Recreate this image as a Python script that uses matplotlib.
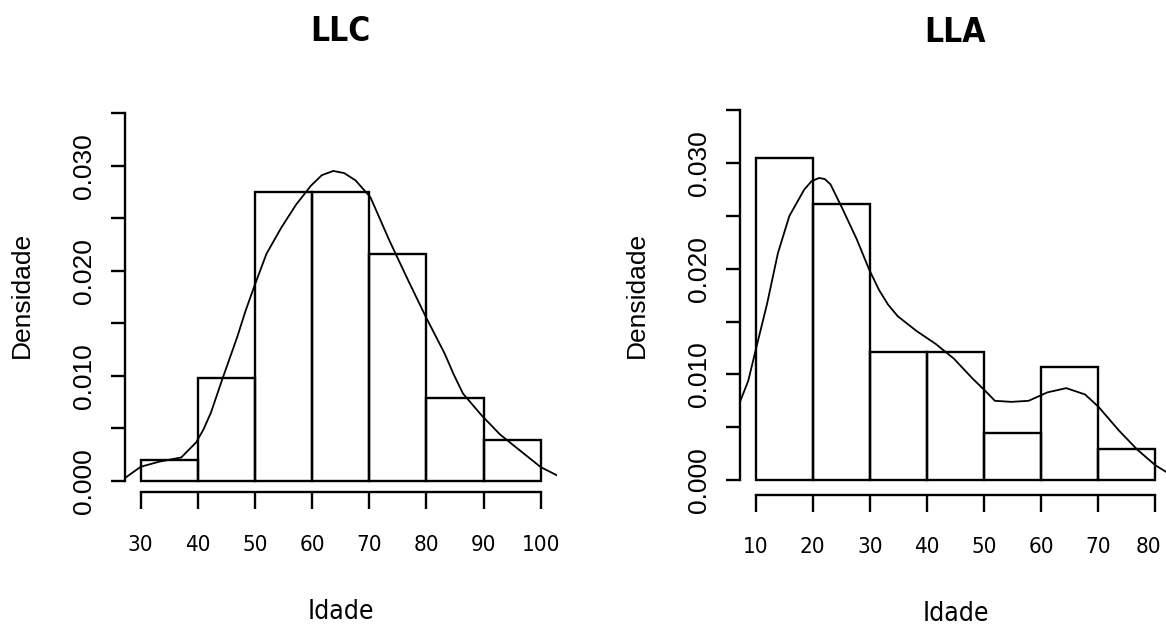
import matplotlib
matplotlib.use("Agg")
import matplotlib.pyplot as plt
import matplotlib.transforms as mtransforms
import numpy as np

# ---------------- data ----------------
llc_edges = [30, 40, 50, 60, 70, 80, 90, 100]
llc_density = [0.00196, 0.0098, 0.02745, 0.02745, 0.02157, 0.00784, 0.00392]
llc_curve_x = [27.4, 30.0, 33.2, 37.1, 39.7, 41.0, 42.3, 44.3, 46.9, 48.3, 49.8, 52.0, 54.6,
               57.2, 59.8, 61.7, 63.7, 65.6, 67.6, 70.2, 73.5, 76.7, 79.9, 83.2, 84.8, 86.4,
               89.7, 92.9, 96.1, 100.0, 102.9]
llc_curve_y = [0.00032, 0.00133, 0.00181, 0.00222, 0.00365, 0.0049, 0.0065, 0.0097, 0.0137,
               0.0161, 0.0184, 0.0216, 0.0241, 0.0263, 0.0281, 0.0291, 0.0295, 0.0293, 0.0286,
               0.0270, 0.0229, 0.0192, 0.0156, 0.0121, 0.0101, 0.0083, 0.0062, 0.0044, 0.0030,
               0.0013, 0.0005]

lla_edges = [10, 20, 30, 40, 50, 60, 70, 80]
lla_density = [0.0305, 0.0261, 0.01214, 0.01214, 0.00447, 0.01072, 0.00295]
lla_curve_x = [7.25, 8.7, 10.0, 12.0, 13.9, 15.9, 18.5, 19.8, 21.1, 22.1, 23.1, 25.1, 27.7,
               29.9, 31.6, 33.2, 34.9, 38.2, 41.5, 44.7, 48.0, 50.1, 51.9, 54.8, 57.8, 61.1,
               64.4, 67.7, 70.1, 73.6, 76.8, 80.0, 81.8]
lla_curve_y = [0.0074, 0.0094, 0.0123, 0.0167, 0.0215, 0.0250, 0.0275, 0.0283, 0.0286, 0.0285,
               0.0280, 0.0258, 0.0228, 0.0199, 0.0180, 0.0166, 0.0155, 0.0141, 0.0129, 0.0115,
               0.0096, 0.0085, 0.0075, 0.0074, 0.0075, 0.0083, 0.0087, 0.0081, 0.0069, 0.0047,
               0.0029, 0.0014, 0.0008]

titles = ["LLC", "LLA"]
xlabel = "Idade"
ylabel = "Densidade"
y_ticks = [0.0, 0.005, 0.010, 0.015, 0.020, 0.025, 0.030, 0.035]
y_labeled = [0.0, 0.010, 0.020, 0.030]

# ---------------- style ----------------
COND = dict(fontfamily=["DejaVu Sans"], fontstretch="condensed")
REG = ["Liberation Sans", "DejaVu Sans"]
EDGE_LW = 1.7
CURVE_LW = 1.3

W, H = 1166, 626
fig = plt.figure(figsize=(W / 100, H / 100), dpi=100)
fig.patch.set_facecolor("white")


def px_axes(left, right, bottom, top):
    return [left / W, (H - bottom) / H, (right - left) / W, (bottom - top) / H]


panels = [
    dict(edges=llc_edges, dens=llc_density, cx=llc_curve_x, cy=llc_curve_y,
         title=titles[0], rect=px_axes(124.7, 556.7, 492.3, 98.5),
         xlim=(27.2, 102.8), ylim=(-0.0011, 0.0364),
         xticks=[30, 40, 50, 60, 70, 80, 90, 100], title_y=1.145, xlab_y=-0.27,
         last_shift=0),
    dict(edges=lla_edges, dens=lla_density, cx=lla_curve_x, cy=lla_curve_y,
         title=titles[1], rect=px_axes(739.7, 1171.3, 494.8, 95.6),
         xlim=(7.2, 82.8), ylim=(-0.0014, 0.0364),
         xticks=[10, 20, 30, 40, 50, 60, 70, 80], title_y=1.135, xlab_y=-0.265,
         last_shift=-7),
]

for p in panels:
    ax = fig.add_axes(p["rect"])
    ax.set_facecolor("white")
    edges = np.array(p["edges"], dtype=float)
    ax.bar(edges[:-1], p["dens"], width=np.diff(edges), align="edge",
           fill=False, edgecolor="black", linewidth=EDGE_LW)
    ax.plot(p["cx"], p["cy"], color="black", linewidth=CURVE_LW, clip_on=True,
            solid_joinstyle="round")
    ax.set_xlim(*p["xlim"])
    ax.set_ylim(*p["ylim"])

    for s in ("top", "right"):
        ax.spines[s].set_visible(False)
    for s in ("left", "bottom"):
        ax.spines[s].set_linewidth(EDGE_LW)
    ax.spines["left"].set_bounds(y_ticks[0], y_ticks[-1])
    ax.spines["bottom"].set_bounds(p["xticks"][0], p["xticks"][-1])

    ax.set_xticks(p["xticks"])
    ax.set_xticklabels([str(t) for t in p["xticks"]], fontsize=16, **COND)
    ax.set_yticks(y_ticks)
    ax.set_yticklabels([("%.3f" % t) if t in y_labeled else "" for t in y_ticks],
                       fontfamily=REG, fontsize=19, rotation=90, va="center")
    ax.tick_params(axis="x", length=12.5, width=EDGE_LW, pad=18, direction="out")
    ax.tick_params(axis="y", length=10, width=EDGE_LW, pad=11, direction="out")

    if p["last_shift"]:
        lab = ax.get_xticklabels()[-1]
        lab.set_transform(lab.get_transform() +
                          mtransforms.ScaledTranslation(p["last_shift"] / 100, 0,
                                                        fig.dpi_scale_trans))

    ax.set_xlabel(xlabel, fontsize=19, **COND)
    ax.xaxis.set_label_coords(0.5, p["xlab_y"])
    ax.set_ylabel(ylabel, fontfamily=REG, fontsize=19)
    ax.yaxis.set_label_coords(-0.21, 0.5)
    ax.set_title(p["title"], fontweight="bold", fontsize=24, y=p["title_y"], pad=0, **COND)

fig.savefig("out.png", dpi=100, facecolor="white")
